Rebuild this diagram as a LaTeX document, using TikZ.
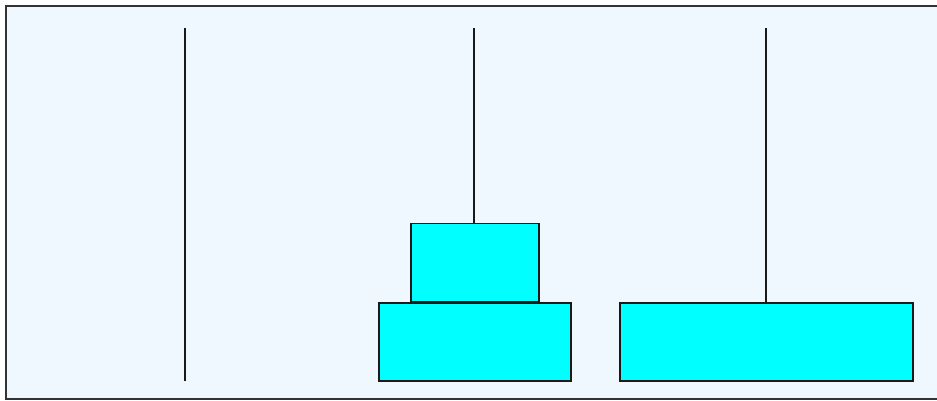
\documentclass[tikz,border=0pt]{standalone}
\usepackage{xcolor}
\usepackage{tikz}
\usetikzlibrary{positioning,calc}
\definecolor{boardbg}{HTML}{F0F8FF}
\definecolor{diskcyan}{HTML}{00FFFF}
\definecolor{framegray}{HTML}{333333}
\tikzset{
  disk/.style={
    draw=black!90,
    fill=diskcyan,
    line width=1.6pt,
    inner sep=0pt,
    minimum height=78pt
  },
  peg/.style={
    draw=black!90,
    line width=1.6pt
  },
  board/.style={
    draw=framegray,
    fill=boardbg,
    line width=1.6pt
  }
}

\begin{document}
\begin{tikzpicture}[x=1pt,y=-1pt]
    \useasboundingbox (0,0) rectangle (937,400);
    \draw[board] (6,6) rectangle (945,399);
    % disks
    \node[disk, minimum width=192pt] (bigB) at (475,342) {};
    \node[disk, minimum width=128pt, above=0pt of bigB] (smallB) {};
    \node[disk, minimum width=293pt] (bigC) at (766.5,342) {};
    % pegs
    \coordinate (topA) at (185,28);
    \coordinate (baseA) at (185,381);
    \coordinate (topB) at (474,28);
    \coordinate (topC) at (766,28);
    \draw[peg] (topA) -- (baseA);
    \draw[peg] (topB) -- (topB |- smallB.north);
    \draw[peg] (topC) -- (topC |- bigC.north);
  \end{tikzpicture}
\end{document}
